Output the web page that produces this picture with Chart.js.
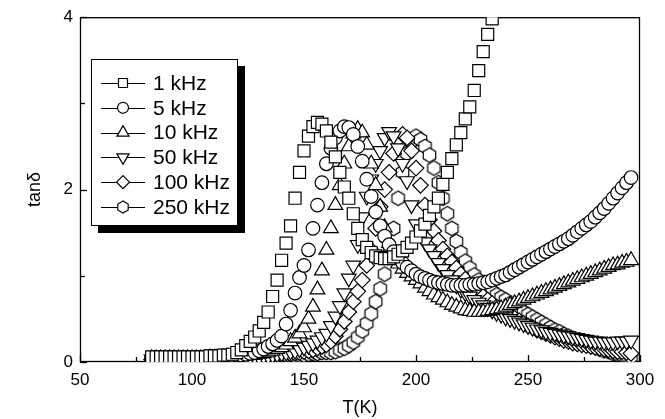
<!DOCTYPE html>
<html><head><meta charset="utf-8">
<script src="https://cdn.jsdelivr.net/npm/chart.js"></script>
<style>html,body{margin:0;padding:0;background:#fff}#wrap{width:665px;height:419px;position:relative}</style>
</head><body><div id="wrap"><canvas id="c" width="665" height="419"></canvas></div>
<script>
// Temperature (K)
const temps = [82,84,86,88,90,92,94,96,98,100,
  102,104,106,108,110,112,114,116,118,120,
  122,124,126,128,130,132,134,136,138,140,
  142,144,146,148,150,152,154,156,158,160,
  162,164,166,168,170,172,174,176,178,180,
  182,184,186,188,190,192,194,196,198,200,
  202,204,206,208,210,212,214,216,218,220,
  222,224,226,228,230,232,234,236,238,240,
  242,244,246,248,250,252,254,256,258,260,
  262,264,266,268,270,272,274,276,278,280,
  282,284,286,288,290,292,294,296];

const tan1k = [0.06,0.06,0.06,0.06,0.06,0.06,0.06,0.06,0.06,0.06,
  0.06,0.06,0.06,0.07,0.07,0.07,0.08,0.08,0.09,0.11,
  0.14,0.19,0.24,0.29,0.36,0.46,0.58,0.76,0.95,1.18,
  1.38,1.58,1.9,2.2,2.45,2.62,2.73,2.78,2.76,2.68,
  2.55,2.38,2.2,2.03,1.9,1.72,1.55,1.42,1.33,1.27,
  1.23,1.21,1.2,1.2,1.22,1.25,1.29,1.33,1.38,1.45,
  1.52,1.6,1.7,1.8,1.9,2.06,2.2,2.36,2.52,2.66,
  2.82,2.96,3.15,3.38,3.6,3.8,3.98,null,null,null,
  null,null,null,null,null,null,null,null,null,null,
  null,null,null,null,null,null,null,null,null,null,
  null,null,null,null,null,null,null,null];

const tan5k = [0.05,0.05,0.05,0.05,0.05,0.05,0.05,0.05,0.05,0.05,
  0.05,0.05,0.05,0.05,0.06,0.06,0.06,0.07,0.07,0.08,
  0.08,0.09,0.1,0.11,0.13,0.15,0.18,0.21,0.25,0.3,
  0.44,0.6,0.8,0.98,1.12,1.3,1.55,1.82,2.08,2.3,
  2.48,2.6,2.68,2.73,2.72,2.64,2.5,2.33,2.12,1.92,
  1.74,1.58,1.46,1.36,1.28,1.21,1.15,1.1,1.06,1.02,
  0.99,0.97,0.95,0.93,0.92,0.91,0.9,0.89,0.89,0.89,
  0.89,0.9,0.9,0.91,0.92,0.93,0.95,0.97,0.99,1.01,
  1.04,1.07,1.1,1.13,1.16,1.19,1.22,1.25,1.28,1.31,
  1.34,1.37,1.4,1.43,1.47,1.51,1.55,1.59,1.63,1.68,
  1.73,1.78,1.84,1.9,1.96,2.02,2.08,2.14];

const tan10k = [0.04,0.04,0.04,0.04,0.04,0.04,0.04,0.04,0.04,0.04,
  0.04,0.04,0.04,0.05,0.05,0.05,0.05,0.06,0.06,0.06,
  0.07,0.07,0.08,0.08,0.09,0.1,0.11,0.13,0.15,0.17,
  0.2,0.24,0.28,0.33,0.4,0.5,0.64,0.84,1.06,1.3,
  1.55,1.82,2.05,2.3,2.5,2.65,2.7,2.66,2.52,2.3,
  2.05,1.8,1.56,1.38,1.24,1.14,1.08,1.03,0.99,0.95,
  0.91,0.86,0.82,0.78,0.75,0.72,0.69,0.66,0.64,0.62,
  0.6,0.59,0.58,0.58,0.58,0.59,0.6,0.61,0.62,0.64,
  0.66,0.68,0.7,0.72,0.74,0.76,0.78,0.8,0.82,0.84,
  0.86,0.88,0.9,0.92,0.94,0.96,0.98,1.0,1.02,1.04,
  1.06,1.08,1.1,1.12,1.13,1.15,1.16,1.18];

const tan50k = [0.03,0.03,0.03,0.03,0.03,0.03,0.03,0.03,0.03,0.03,
  0.03,0.03,0.03,0.03,0.04,0.04,0.04,0.04,0.04,0.05,
  0.05,0.05,0.06,0.06,0.06,0.07,0.07,0.08,0.09,0.1,
  0.11,0.12,0.13,0.15,0.17,0.19,0.22,0.25,0.29,0.33,
  0.42,0.53,0.65,0.8,0.97,1.12,1.36,1.68,1.92,2.12,
  2.3,2.45,2.6,2.67,2.62,2.48,2.3,2.1,1.82,1.6,
  1.47,1.39,1.31,1.23,1.15,1.08,1.01,0.95,0.89,0.84,
  0.8,0.76,0.72,0.69,0.66,0.63,0.6,0.57,0.55,0.52,
  0.5,0.48,0.46,0.44,0.42,0.4,0.38,0.37,0.35,0.34,
  0.33,0.32,0.31,0.3,0.29,0.28,0.27,0.26,0.25,0.24,
  0.24,0.23,0.23,0.23,0.24,0.24,0.24,0.25];

const tan100k = [0.03,0.03,0.03,0.03,0.03,0.03,0.03,0.03,0.03,0.03,
  0.03,0.03,0.03,0.03,0.03,0.03,0.04,0.04,0.04,0.04,
  0.04,0.04,0.05,0.05,0.05,0.06,0.06,0.07,0.07,0.08,
  0.08,0.09,0.1,0.11,0.12,0.13,0.14,0.16,0.18,0.2,
  0.24,0.3,0.38,0.47,0.58,0.7,0.82,0.95,1.12,1.3,
  1.55,1.8,2.0,2.2,2.42,2.58,2.64,2.6,2.45,2.25,
  2.05,1.82,1.65,1.52,1.41,1.31,1.23,1.16,1.09,1.02,
  0.96,0.9,0.85,0.8,0.76,0.72,0.68,0.64,0.6,0.57,
  0.54,0.51,0.48,0.45,0.42,0.4,0.37,0.35,0.33,0.31,
  0.29,0.27,0.25,0.24,0.22,0.21,0.2,0.19,0.18,0.17,
  0.16,0.15,0.14,0.13,0.12,0.12,0.11,0.1];

const tan250k = [0.03,0.03,0.03,0.03,0.03,0.03,0.03,0.03,0.03,0.03,
  0.03,0.03,0.03,0.03,0.03,0.03,0.03,0.03,0.03,0.03,
  0.03,0.03,0.04,0.04,0.04,0.04,0.05,0.05,0.05,0.06,
  0.06,0.07,0.07,0.08,0.08,0.09,0.1,0.1,0.11,0.11,
  0.11,0.12,0.14,0.16,0.19,0.23,0.29,0.36,0.45,0.56,
  0.7,0.85,1.02,1.25,1.55,1.9,2.2,2.42,2.56,2.62,
  2.58,2.5,2.4,2.25,2.08,1.9,1.72,1.55,1.4,1.27,
  1.17,1.09,1.01,0.95,0.9,0.86,0.82,0.78,0.75,0.72,
  0.68,0.65,0.61,0.58,0.55,0.52,0.49,0.46,0.43,0.4,
  0.37,0.35,0.32,0.3,0.27,0.25,0.23,0.21,0.19,0.17,
  0.15,0.13,0.12,0.1,0.09,0.08,0.07,0.06];

const seriesLabels = ['1 kHz','5 kHz','10 kHz','50 kHz','100 kHz','250 kHz'];
const seriesValues = [tan1k, tan5k, tan10k, tan50k, tan100k, tan250k];
const xTickValues = [50,100,150,200,250,300];
const yTickValues = [0,2,4];

// marker styles (kept separate from data)
function hexPath(g, cx, cy, R){
  g.beginPath();
  for (let i=0;i<6;i++){
    const a = Math.PI/2 + i*Math.PI/3;
    const px = cx + R*Math.cos(a), py = cy - R*Math.sin(a);
    if(i===0) g.moveTo(px,py); else g.lineTo(px,py);
  }
  g.closePath();
}
function hexCanvas(R){
  const s = Math.ceil(R*2+4);
  const cv = document.createElement('canvas');
  cv.width = s; cv.height = s;
  const g = cv.getContext('2d');
  hexPath(g, s/2, s/2, R);
  g.fillStyle = '#fff'; g.fill();
  g.lineWidth = 1.2; g.strokeStyle = '#000'; g.stroke();
  return cv;
}
const markerStyles = [
  {ps:'rect', r:8.5, rot:0, kind:'sq'},
  {ps:'circle', r:6.8, rot:0, kind:'ci'},
  {ps:'triangle', r:8.5, rot:0, kind:'tu'},
  {ps:'triangle', r:8.5, rot:180, kind:'td'},
  {ps:'rectRot', r:7.8, rot:0, kind:'di'},
  {ps:hexCanvas(7.2), r:7.2, rot:0, kind:'hx'}
];

const datasets = seriesLabels.map((lab, i) => {
  const pts = [];
  temps.forEach((t, j) => { const v = seriesValues[i][j]; if (v !== null) pts.push({x:t, y:v}); });
  const m = markerStyles[i];
  return {
    label: lab, data: pts, showLine: false,
    pointStyle: m.ps, pointRadius: m.r, pointHoverRadius: m.r, pointRotation: m.rot,
    pointBorderColor: '#000', pointBackgroundColor: '#fff', pointBorderWidth: 1.2,
    borderColor: '#000', backgroundColor: '#fff'
  };
});

function drawMark(g, kind, x, y, r){
  g.beginPath();
  if (kind==='sq'){ g.rect(x-r, y-r, 2*r, 2*r); }
  else if (kind==='ci'){ g.arc(x, y, r, 0, Math.PI*2); }
  else if (kind==='tu'){ g.moveTo(x, y-r); g.lineTo(x+r*0.866, y+r*0.5); g.lineTo(x-r*0.866, y+r*0.5); g.closePath(); }
  else if (kind==='td'){ g.moveTo(x, y+r); g.lineTo(x+r*0.866, y-r*0.5); g.lineTo(x-r*0.866, y-r*0.5); g.closePath(); }
  else if (kind==='di'){ g.moveTo(x, y-r); g.lineTo(x+r, y); g.lineTo(x, y+r); g.lineTo(x-r, y); g.closePath(); }
  else if (kind==='hx'){ hexPath(g, x, y, r); }
  g.fillStyle='#fff'; g.fill(); g.lineWidth=1.2; g.strokeStyle='#000'; g.stroke();
}

const framePlugin = {
  id: 'frame',
  beforeDatasetsDraw(chart){
    const {ctx, chartArea:a, scales:{x, y}} = chart;
    ctx.save();
    ctx.strokeStyle = '#000'; ctx.lineWidth = 1.3;
    ctx.strokeRect(a.left+0.5, a.top+0.5, a.right-a.left-1, a.bottom-a.top-1);
    for (let v=50; v<=300; v+=25){
      const px = Math.round(x.getPixelForValue(v))+0.5;
      const len = (v%50===0) ? 7 : 5;
      ctx.beginPath(); ctx.moveTo(px, a.bottom); ctx.lineTo(px, a.bottom-len); ctx.stroke();
    }
    for (let v=0; v<=4; v+=1){
      const py = Math.round(y.getPixelForValue(v))+0.5;
      const len = (v%2===0) ? 7 : 5;
      ctx.beginPath(); ctx.moveTo(a.left, py); ctx.lineTo(a.left+len, py); ctx.stroke();
    }
    ctx.restore();
  },
  afterDraw(chart){
    const ctx = chart.ctx;
    const L=91, T=59, R=238, B=226, sh=7;
    ctx.save();
    ctx.fillStyle='#000';
    ctx.fillRect(L+sh, T+sh, R-L, B-T);
    ctx.fillStyle='#fff';
    ctx.fillRect(L, T, R-L, B-T);
    ctx.strokeStyle='#000'; ctx.lineWidth=1;
    ctx.strokeRect(L+0.5, T+0.5, R-L-1, B-T-1);
    const legR = [4.5, 5.5, 7, 7, 6.5, 6];
    chart.data.datasets.forEach((ds, i) => {
      const yy = 83 + i*24.8;
      ctx.beginPath(); ctx.moveTo(101, Math.round(yy)+0.5); ctx.lineTo(145, Math.round(yy)+0.5);
      ctx.lineWidth=1; ctx.strokeStyle='#000'; ctx.stroke();
      drawMark(ctx, markerStyles[i].kind, 123, yy, legR[i]);
      ctx.fillStyle='#000';
      ctx.font = "21px 'Liberation Sans', Arial, sans-serif";
      ctx.textBaseline='middle'; ctx.textAlign='left';
      ctx.fillText(ds.label, 153, yy+1);
    });
    ctx.restore();
  }
};

Chart.defaults.font.family = "'Liberation Sans', Arial, sans-serif";
Chart.defaults.color = '#000';

new Chart(document.getElementById('c'), {
  type: 'scatter',
  data: { datasets },
  options: {
    responsive: false, animation: false,
    layout: { padding: { top: 17, right: 25, bottom: 0, left: 0 } },
    plugins: { legend: { display: false }, tooltip: { enabled: false } },
    scales: {
      x: {
        type: 'linear', min: 50, max: 300,
        grid: { display: false, drawTicks: false }, border: { display: false },
        afterBuildTicks(s){ s.ticks = xTickValues.map(v => ({value: v})); },
        ticks: { padding: 8, autoSkip: false, maxRotation: 0, font: { size: 17 }, callback: v => String(v) },
        title: { display: true, text: 'T(K)', font: { size: 18 }, padding: { top: 0, bottom: 0 } },
        afterFit(s){ s.height = 57; }
      },
      y: {
        type: 'linear', min: 0, max: 4,
        grid: { display: false, drawTicks: false }, border: { display: false },
        afterBuildTicks(s){ s.ticks = yTickValues.map(v => ({value: v})); },
        ticks: { padding: 7, font: { size: 17 }, callback: v => String(v) },
        title: { display: true, text: 'tanδ', font: { size: 18 }, padding: { top: 24, bottom: 0 } },
        afterFit(s){ s.width = 80; }
      }
    }
  },
  plugins: [framePlugin]
});
</script></body></html>
